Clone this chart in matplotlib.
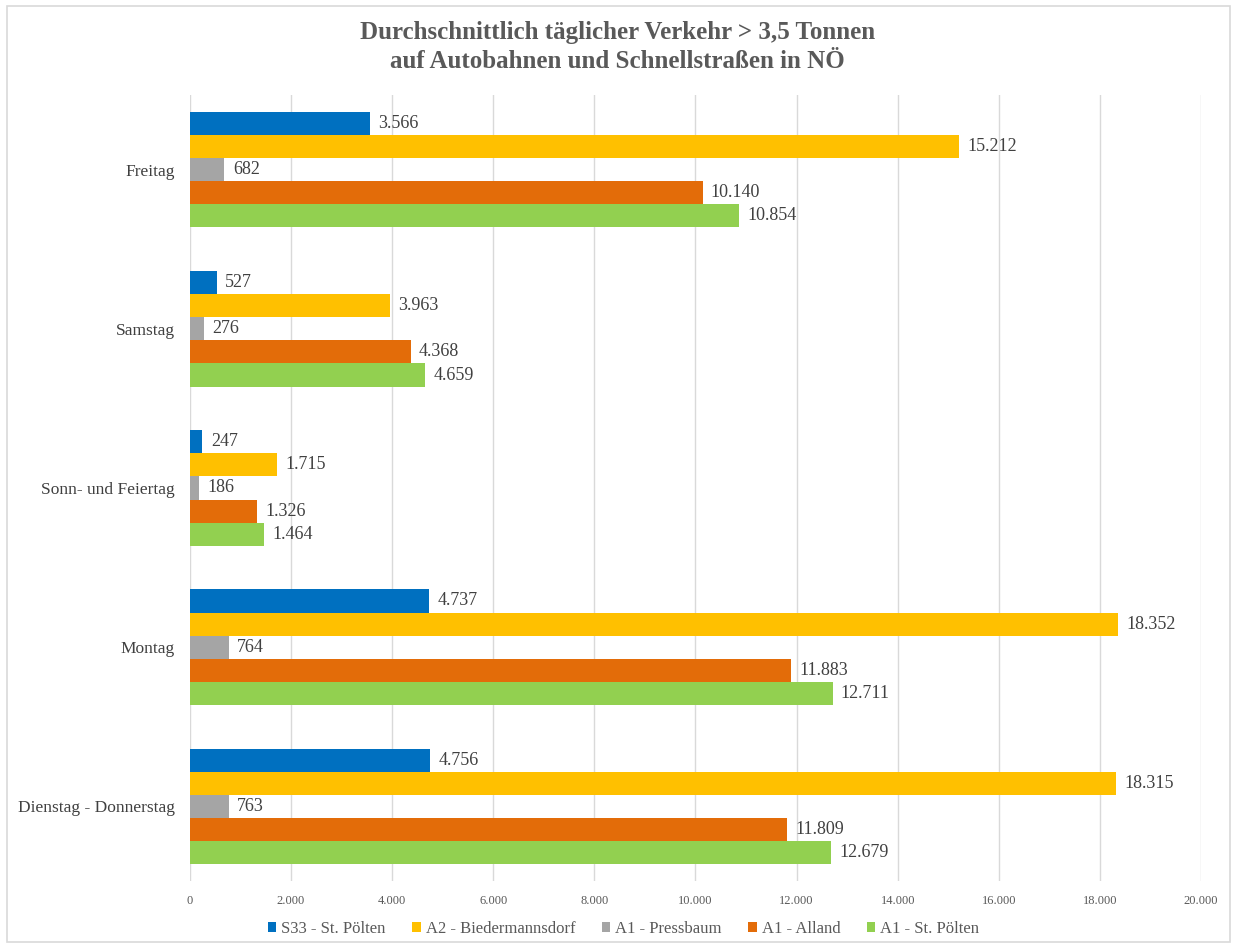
import numpy as np
import matplotlib.pyplot as plt
from matplotlib.patches import Rectangle
from matplotlib.ticker import FuncFormatter

# Tage (von unten nach oben wie im Diagramm)
days = ['Dienstag - Donnerstag', 'Montag', 'Sonn- und Feiertag', 'Samstag', 'Freitag']
series = ['S33 - St. Pölten', 'A2 - Biedermannsdorf', 'A1 - Pressbaum', 'A1 - Alland', 'A1 - St. Pölten']
s33_stp = [4756, 4737, 247, 527, 3566]
a2_bied = [18315, 18352, 1715, 3963, 15212]
a1_press = [763, 764, 186, 276, 682]
a1_alland = [11809, 11883, 1326, 4368, 10140]
a1_stp = [12679, 12711, 1464, 4659, 10854]
colors = ['#0070C0', '#FFC000', '#A5A5A5', '#E36C09', '#92D050']

values = [s33_stp, a2_bied, a1_press, a1_alland, a1_stp]

plt.rcParams['font.family'] = ['Liberation Serif', 'DejaVu Serif']

fig = plt.figure(figsize=(12.35, 9.46), dpi=100)
fig.patches.append(Rectangle((0.006, 0.004), 0.99, 0.99, transform=fig.transFigure,
                             fill=False, edgecolor='#D9D9D9', linewidth=1.2))
ax = fig.add_axes([0.1538, 0.0687, 0.8187, 0.8309])

y = np.arange(len(days))
h = 0.145
for i, (name, vals, c) in enumerate(zip(series, values, colors)):
    pos = y + (2 - i) * h
    bars = ax.barh(pos, vals, height=h, color=c, label=name, zorder=3)
    for b, v in zip(bars, vals):
        ax.annotate(f'{v:,}'.replace(',', '.'), (v, b.get_y() + b.get_height() / 2),
                    xytext=(6, 0), textcoords='offset points', va='center', ha='left',
                    fontsize=13, color='#404040')

ax.set_xlim(0, 20000)
ax.set_ylim(-0.47, 4.47)
ax.set_xticks(np.arange(0, 20001, 2000))
ax.xaxis.set_major_formatter(FuncFormatter(lambda v, p: f'{int(v):,}'.replace(',', '.')))
ax.set_yticks(y)
ax.set_yticklabels(days, fontsize=12.5, color='#404040')
ax.tick_params(axis='x', labelsize=9, colors='#595959', length=0, pad=10)
ax.tick_params(axis='y', length=0, pad=11)
ax.grid(axis='x', color='#D9D9D9', linewidth=1, zorder=0)
for s in ax.spines.values():
    s.set_visible(False)

fig.suptitle('Durchschnittlich täglicher Verkehr > 3,5 Tonnen\nauf Autobahnen und Schnellstraßen in NÖ',
             y=0.978, fontsize=18, fontweight='bold', color='#595959', linespacing=1.35)

fig.legend(loc='center', bbox_to_anchor=(0.505, 0.018), ncol=5, frameon=False,
           fontsize=12, handlelength=0.5, handleheight=0.6, handletextpad=0.3,
           columnspacing=1.6, labelcolor='#595959')

fig.savefig('out.png', dpi=100)
